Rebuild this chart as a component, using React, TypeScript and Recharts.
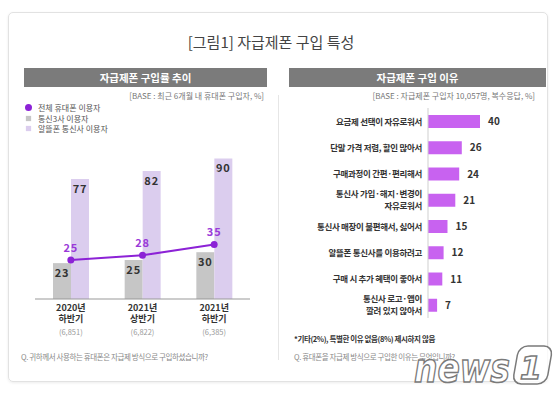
import React from 'react';
import {
  ComposedChart, Bar, Line, XAxis, YAxis, LabelList, BarChart,
} from 'recharts';

// ---- Left panel data ----
const periodYears = ['2020년', '2021년', '2021년'];
const periodHalves = ['하반기', '상반기', '하반기'];
const sampleSizes = ['(6,851)', '(6,822)', '(6,385)'];
const allUsers = [25, 28, 35];
const mnoUsers = [23, 25, 30];
const mvnoUsers = [77, 82, 90];
const seriesNames = ['전체 휴대폰 이용자', '통신3사 이용자', '알뜰폰 통신사 이용자'];

// ---- Right panel data ----
const reasons = [
  '요금제 선택이 자유로워서',
  '단말 가격 저렴, 할인 많아서',
  '구매과정이 간편·편리해서',
  '통신사 가입·해지·변경이\n자유로워서',
  '통신사 매장이 불편해서, 싫어서',
  '알뜰폰 통신사를 이용하려고',
  '구매 시 추가 혜택이 좋아서',
  '통신사 로고·앱이\n깔려 있지 않아서',
];
const reasonShares = [40, 26, 24, 21, 15, 12, 11, 7];

const FONT = '"Noto Sans CJK KR", "Noto Sans", sans-serif';
const LINE_COLOR = '#8c22d6';
const GRAY_BAR = '#c6c6c6';
const LAV_BAR = '#dbcdee';
const REASON_BAR = '#c862f0';

const leftData = periodYears.map((y, i) => ({
  key: `${y} ${periodHalves[i]} ${i}`,
  all: allUsers[i],
  mno: mnoUsers[i],
  mvno: mvnoUsers[i],
}));

const rightData = reasons.map((r, i) => ({ reason: r, share: reasonShares[i] }));

const PeriodTick = (props: any) => {
  const { x, y, index } = props;
  return (
    <g transform={`translate(${x},${y})`}>
      <text textAnchor="middle" y={11.5} fontSize={9} fontWeight={700} fill="#333" fontFamily={FONT}>
        {periodYears[index]}
      </text>
      <text textAnchor="middle" y={23} fontSize={9} fontWeight={700} fill="#333" fontFamily={FONT}>
        {periodHalves[index]}
      </text>
      <text textAnchor="middle" y={36} fontSize={7.5} fill="#9a9a9a" fontFamily={FONT}>
        {sampleSizes[index]}
      </text>
    </g>
  );
};

const ReasonTick = (props: any) => {
  const { x, y, payload } = props;
  const lines = String(payload.value).split('\n');
  const startDy = lines.length === 1 ? 3.5 : -2.5;
  return (
    <g>
      {lines.map((ln, i) => (
        <text
          key={i}
          x={x}
          y={y + startDy + i * 12}
          textAnchor="end"
          fontSize={8.5}
          fontWeight={700}
          fill="#333"
          letterSpacing={-0.3}
          fontFamily={FONT}
        >
          {ln}
        </text>
      ))}
    </g>
  );
};

const abs = (s: React.CSSProperties): React.CSSProperties => ({ position: 'absolute', ...s });

export default function App() {
  return (
    <div style={abs({ left: 0, top: 0, width: 560, height: 395, background: '#fff', fontFamily: FONT, overflow: 'hidden' })}>
      {/* card */}
      <div style={abs({ left: 8, top: 12, width: 540, height: 370, border: '1px solid #e2e2e2', borderRadius: 5, boxShadow: '0 1px 3px rgba(0,0,0,0.08)', boxSizing: 'border-box' })} />
      {/* title */}
      <div style={abs({ left: 0, top: 31, width: 542, textAlign: 'center', fontSize: 15, color: '#444', lineHeight: '22px' })}>
        [그림1] 자급제폰 구입 특성
      </div>
      {/* headers */}
      <div style={abs({ left: 24, top: 68, width: 243, height: 19, background: '#7b7b7b', color: '#fff', fontSize: 10.5, fontWeight: 700, textAlign: 'center', lineHeight: '19px' })}>
        자급제폰 구입률 추이
      </div>
      <div style={abs({ left: 289, top: 68, width: 257, height: 19, background: '#7b7b7b', color: '#fff', fontSize: 10.5, fontWeight: 700, textAlign: 'center', lineHeight: '19px' })}>
        자급제폰 구입 이유
      </div>
      {/* base notes */}
      <div style={abs({ right: 560 - 264, top: 90, fontSize: 8, color: '#777', whiteSpace: 'nowrap', lineHeight: '12px' })}>
        [BASE : 최근 6개월 내 휴대폰 구입자, %]
      </div>
      <div style={abs({ right: 560 - 535, top: 90, fontSize: 8, color: '#777', whiteSpace: 'nowrap', lineHeight: '12px' })}>
        [BASE : 자급제폰 구입자 10,057명, 복수응답, %]
      </div>
      {/* divider */}
      <div style={abs({ left: 278, top: 95, width: 1, height: 265, background: '#e6e6e6' })} />

      {/* legend */}
      {seriesNames.map((n, i) => (
        <div key={n} style={abs({ left: 25, top: 102 + i * 10.5, height: 11, display: 'flex', alignItems: 'center', fontSize: 8, color: '#555', whiteSpace: 'nowrap' })}>
          <span style={{ display: 'inline-block', width: 7, height: 7, marginRight: 6, borderRadius: i === 0 ? '50%' : 0, background: i === 0 ? LINE_COLOR : i === 1 ? GRAY_BAR : LAV_BAR, transform: i === 0 ? 'none' : 'scale(0.75)' }} />
          {n}
        </div>
      ))}

      {/* left chart */}
      <div style={abs({ left: 0, top: 0 })}>
        <ComposedChart width={280} height={395} data={leftData} margin={{ top: 143, right: 30, bottom: 56, left: 35 }} barGap={0}>
          <XAxis dataKey="key" height={40} tickLine={false} tickSize={0} tickMargin={0} axisLine={{ stroke: '#999' }} tick={<PeriodTick />} interval={0} />
          <YAxis hide domain={[0, 100]} />
          <Bar dataKey="mno" name={seriesNames[1]} fill={GRAY_BAR} barSize={18} isAnimationActive={false}>
            <LabelList dataKey="mno" position="insideTop" offset={6} fontSize={11} fontWeight={600} fill="#333" letterSpacing={0.8} fontFamily={FONT} />
          </Bar>
          <Bar dataKey="mvno" name={seriesNames[2]} fill={LAV_BAR} barSize={18} isAnimationActive={false}>
            <LabelList dataKey="mvno" position="insideTop" offset={6} fontSize={11} fontWeight={600} fill="#333" letterSpacing={0.8} fontFamily={FONT} />
          </Bar>
          <Line dataKey="all" name={seriesNames[0]} stroke={LINE_COLOR} strokeWidth={2} dot={{ r: 3.5, fill: LINE_COLOR, stroke: LINE_COLOR, strokeWidth: 0 }} isAnimationActive={false}>
            <LabelList dataKey="all" position="top" offset={8} fontSize={11} fontWeight={600} fill="#9a3ad8" letterSpacing={0.8} fontFamily={FONT} />
          </Line>
        </ComposedChart>
      </div>

      {/* right chart */}
      <div style={abs({ left: 280, top: 0 })}>
        <BarChart width={280} height={395} data={rightData} layout="vertical" margin={{ top: 108, right: 28, bottom: 77, left: 0 }}>
          <XAxis type="number" hide domain={[0, 80]} />
          <YAxis type="category" dataKey="reason" width={148} tickLine={false} tickSize={0} tickMargin={6} axisLine={{ stroke: '#cfcfcf' }} tick={<ReasonTick />} interval={0} />
          <Bar dataKey="share" fill={REASON_BAR} barSize={13} isAnimationActive={false}>
            <LabelList dataKey="share" position="right" offset={8} fontSize={10} fontWeight={700} fill="#333" fontFamily={FONT} />
          </Bar>
        </BarChart>
      </div>

      {/* footnotes */}
      <div style={abs({ left: 21, top: 351, fontSize: 7.5, color: '#888', whiteSpace: 'nowrap', letterSpacing: -0.4, lineHeight: '12px' })}>
        Q. 귀하께서 사용하는 휴대폰은 자급제 방식으로 구입하셨습니까?
      </div>
      <div style={abs({ left: 294, top: 333, fontSize: 7.5, color: '#333', fontWeight: 700, whiteSpace: 'nowrap', letterSpacing: -0.4, lineHeight: '12px' })}>
        *기타(2%), 특별한 이유 없음(8%) 제시하지 않음
      </div>
      <div style={abs({ left: 294, top: 351, fontSize: 7.5, color: '#888', whiteSpace: 'nowrap', letterSpacing: -0.4, lineHeight: '12px' })}>
        Q. 휴대폰을 자급제 방식으로 구입한 이유는 무엇입니까?
      </div>

      {/* watermark */}
      <svg style={abs({ left: 410, top: 340 })} width={145} height={50}>
        <text x={4} y={42} fontSize={40} fontStyle="italic" fontWeight={700} fill="rgba(255,255,255,0.8)" stroke="#7a7a7a" strokeWidth={1.5} fontFamily="'DejaVu Sans', sans-serif" textLength={96} lengthAdjust="spacingAndGlyphs">
          news
        </text>
        <rect x={104} y={6} width={34} height={38} rx={9} fill="rgba(255,255,255,0.8)" stroke="#7a7a7a" strokeWidth={1.5} transform="skewX(-10) translate(6,0)" />
        <text x={121} y={39} textAnchor="middle" fontSize={32} fontStyle="italic" fontWeight={700} fill="rgba(255,255,255,0.9)" stroke="#7a7a7a" strokeWidth={1.5} fontFamily="'DejaVu Sans', sans-serif">
          1
        </text>
      </svg>
    </div>
  );
}
